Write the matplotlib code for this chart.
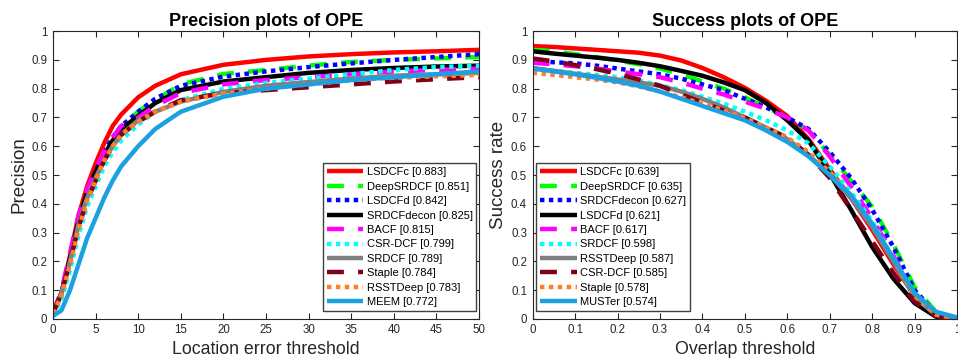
import matplotlib.pyplot as plt

plt.rcParams['font.family'] = ['Liberation Sans', 'DejaVu Sans']

# precision plot data
prec_x = [0, 1, 2, 3, 4, 5, 6, 7, 8, 10, 12, 15, 20, 25, 30, 35, 40, 45, 50]
prec_names = ['LSDCFc [0.883]', 'DeepSRDCF [0.851]', 'LSDCFd [0.842]', 'SRDCFdecon [0.825]',
              'BACF [0.815]', 'CSR-DCF [0.799]', 'SRDCF [0.789]', 'Staple [0.784]',
              'RSSTDeep [0.783]', 'MEEM [0.772]']
lsdcfc_p = [0.02, 0.09, 0.22, 0.36, 0.46, 0.54, 0.61, 0.67, 0.71, 0.77, 0.81, 0.85, 0.883, 0.90, 0.912, 0.92, 0.926, 0.93, 0.935]
deepsrdcf_p = [0.02, 0.09, 0.21, 0.34, 0.44, 0.51, 0.58, 0.63, 0.67, 0.72, 0.76, 0.815, 0.851, 0.865, 0.88, 0.893, 0.90, 0.905, 0.91]
lsdcfd_p = [0.02, 0.09, 0.21, 0.34, 0.44, 0.51, 0.58, 0.63, 0.67, 0.72, 0.765, 0.81, 0.842, 0.86, 0.875, 0.888, 0.90, 0.91, 0.92]
srdcfdecon_p = [0.02, 0.09, 0.21, 0.34, 0.44, 0.51, 0.57, 0.62, 0.66, 0.705, 0.75, 0.795, 0.825, 0.84, 0.855, 0.865, 0.872, 0.877, 0.88]
bacf_p = [0.02, 0.10, 0.23, 0.36, 0.45, 0.52, 0.58, 0.63, 0.67, 0.70, 0.74, 0.785, 0.815, 0.83, 0.84, 0.85, 0.86, 0.865, 0.87]
csrdcf_p = [0.01, 0.07, 0.17, 0.29, 0.39, 0.46, 0.53, 0.58, 0.62, 0.675, 0.72, 0.76, 0.799, 0.82, 0.835, 0.85, 0.865, 0.875, 0.88]
srdcf_p = [0.02, 0.09, 0.20, 0.33, 0.42, 0.49, 0.55, 0.60, 0.64, 0.69, 0.72, 0.755, 0.789, 0.81, 0.823, 0.835, 0.845, 0.85, 0.855]
staple_p = [0.02, 0.09, 0.20, 0.32, 0.41, 0.48, 0.55, 0.60, 0.64, 0.685, 0.72, 0.76, 0.784, 0.795, 0.805, 0.815, 0.825, 0.833, 0.84]
rsstdeep_p = [0.02, 0.08, 0.19, 0.31, 0.41, 0.48, 0.55, 0.60, 0.64, 0.685, 0.72, 0.755, 0.783, 0.80, 0.815, 0.83, 0.838, 0.843, 0.848]
meem_p = [0.01, 0.03, 0.10, 0.19, 0.28, 0.35, 0.42, 0.48, 0.53, 0.60, 0.66, 0.72, 0.772, 0.80, 0.815, 0.83, 0.84, 0.85, 0.86]
prec_vals = [lsdcfc_p, deepsrdcf_p, lsdcfd_p, srdcfdecon_p, bacf_p, csrdcf_p, srdcf_p, staple_p, rsstdeep_p, meem_p]

# success plot data
succ_x = [0, 0.05, 0.1, 0.15, 0.2, 0.25, 0.3, 0.35, 0.4, 0.45, 0.5, 0.55, 0.6, 0.65, 0.7, 0.75, 0.8, 0.85, 0.9, 0.95, 1.0]
succ_names = ['LSDCFc [0.639]', 'DeepSRDCF [0.635]', 'SRDCFdecon [0.627]', 'LSDCFd [0.621]',
              'BACF [0.617]', 'SRDCF [0.598]', 'RSSTDeep [0.587]', 'CSR-DCF [0.585]',
              'Staple [0.578]', 'MUSTer [0.574]']
lsdcfc_s = [0.948, 0.945, 0.940, 0.935, 0.930, 0.925, 0.915, 0.898, 0.872, 0.840, 0.803, 0.758, 0.705, 0.625, 0.52, 0.42, 0.31, 0.19, 0.08, 0.02, 0.0]
deepsrdcf_s = [0.935, 0.93, 0.92, 0.91, 0.898, 0.885, 0.87, 0.85, 0.825, 0.80, 0.77, 0.735, 0.70, 0.655, 0.57, 0.48, 0.39, 0.26, 0.11, 0.025, 0.0]
srdcfdecon_s = [0.895, 0.892, 0.888, 0.88, 0.87, 0.86, 0.85, 0.835, 0.815, 0.795, 0.765, 0.735, 0.70, 0.66, 0.58, 0.49, 0.38, 0.25, 0.10, 0.02, 0.0]
lsdcfd_s = [0.93, 0.922, 0.915, 0.908, 0.90, 0.89, 0.878, 0.862, 0.845, 0.822, 0.795, 0.75, 0.69, 0.62, 0.505, 0.38, 0.25, 0.14, 0.055, 0.008, 0.0]
bacf_s = [0.89, 0.885, 0.878, 0.87, 0.86, 0.85, 0.84, 0.822, 0.80, 0.78, 0.755, 0.73, 0.70, 0.655, 0.565, 0.46, 0.35, 0.22, 0.08, 0.015, 0.0]
srdcf_s = [0.87, 0.862, 0.855, 0.848, 0.84, 0.828, 0.812, 0.795, 0.772, 0.748, 0.72, 0.69, 0.655, 0.61, 0.53, 0.44, 0.34, 0.21, 0.08, 0.015, 0.0]
rsstdeep_s = [0.872, 0.862, 0.852, 0.842, 0.832, 0.822, 0.81, 0.79, 0.765, 0.735, 0.70, 0.665, 0.625, 0.57, 0.50, 0.42, 0.32, 0.20, 0.075, 0.015, 0.0]
csrdcf_s = [0.905, 0.895, 0.882, 0.868, 0.852, 0.832, 0.81, 0.78, 0.752, 0.725, 0.70, 0.665, 0.63, 0.57, 0.49, 0.38, 0.27, 0.16, 0.06, 0.01, 0.0]
staple_s = [0.855, 0.848, 0.84, 0.832, 0.822, 0.808, 0.79, 0.77, 0.748, 0.725, 0.698, 0.665, 0.63, 0.58, 0.51, 0.43, 0.33, 0.21, 0.08, 0.015, 0.0]
muster_s = [0.87, 0.86, 0.85, 0.838, 0.825, 0.81, 0.79, 0.765, 0.74, 0.715, 0.69, 0.655, 0.615, 0.565, 0.50, 0.43, 0.33, 0.21, 0.09, 0.025, 0.005]
succ_vals = [lsdcfc_s, deepsrdcf_s, srdcfdecon_s, lsdcfd_s, bacf_s, srdcf_s, rsstdeep_s, csrdcf_s, staple_s, muster_s]

# rank-order styles (same for both plots)
colors = ['#ff0000', '#00ff00', '#0000ff', '#000000', '#ff00ff', '#00ffff',
          '#808080', '#800018', '#ff7f2a', '#1ba1e2']
styles = ['-', (0, (3.8, 3.2)), (0, (1, 1)), '-', (0, (3.8, 3.2)), (0, (1, 1)),
          '-', (0, (3.8, 3.2)), (0, (1, 1)), '-']

fig = plt.figure(figsize=(9.58, 3.62), dpi=100)
ax1 = fig.add_axes([0.0553, 0.119, 0.4447, 0.795])
ax2 = fig.add_axes([0.556, 0.119, 0.443, 0.795])


def draw(ax, xs, vals, names, xlim, xticks, xticklabels, title, xlabel, ylabel, loc, anchor):
    for i in range(len(vals)):
        ax.plot(xs, vals[i], color=colors[i], linestyle=styles[i], linewidth=3.2,
                dash_capstyle='butt', solid_capstyle='butt', solid_joinstyle='round',
                label=names[i])
    ax.set_xlim(xlim)
    ax.set_ylim(0, 1)
    ax.set_xticks(xticks)
    ax.set_xticklabels(xticklabels)
    yt = [i / 10 for i in range(11)]
    ax.set_yticks(yt)
    ax.set_yticklabels(['0'] + ['%.1f' % v for v in yt[1:-1]] + ['1'])
    ax.tick_params(direction='in', top=True, right=True, labelsize=8.3, length=4,
                   width=0.8, colors='#262626', pad=4)
    for s in ax.spines.values():
        s.set_color('#262626')
        s.set_linewidth(0.8)
    ax.set_title(title, fontsize=13, fontweight='bold', pad=4)
    ax.set_xlabel(xlabel, fontsize=12.8, labelpad=3, color='#262626')
    ax.set_ylabel(ylabel, fontsize=13.5, labelpad=3, color='#262626')
    leg = ax.legend(loc=loc, bbox_to_anchor=anchor, fontsize=8, handlelength=3.3,
                    handletextpad=0.3, labelspacing=0.4, borderpad=0.35,
                    borderaxespad=0, fancybox=False, framealpha=1)
    leg.get_frame().set_edgecolor('#404040')
    leg.get_frame().set_linewidth(1.0)


draw(ax1, prec_x, prec_vals, prec_names, (0, 50), list(range(0, 51, 5)),
     [str(v) for v in range(0, 51, 5)], 'Precision plots of OPE',
     'Location error threshold', 'Precision', 'lower right', (0.994, 0.027))
sx = [i / 10 for i in range(11)]
draw(ax2, succ_x, succ_vals, succ_names, (0, 1), sx,
     ['0'] + ['%.1f' % v for v in sx[1:-1]] + ['1'], 'Success plots of OPE',
     'Overlap threshold', 'Success rate', 'lower left', (0.008, 0.027))

fig.savefig('out.png', dpi=100)
